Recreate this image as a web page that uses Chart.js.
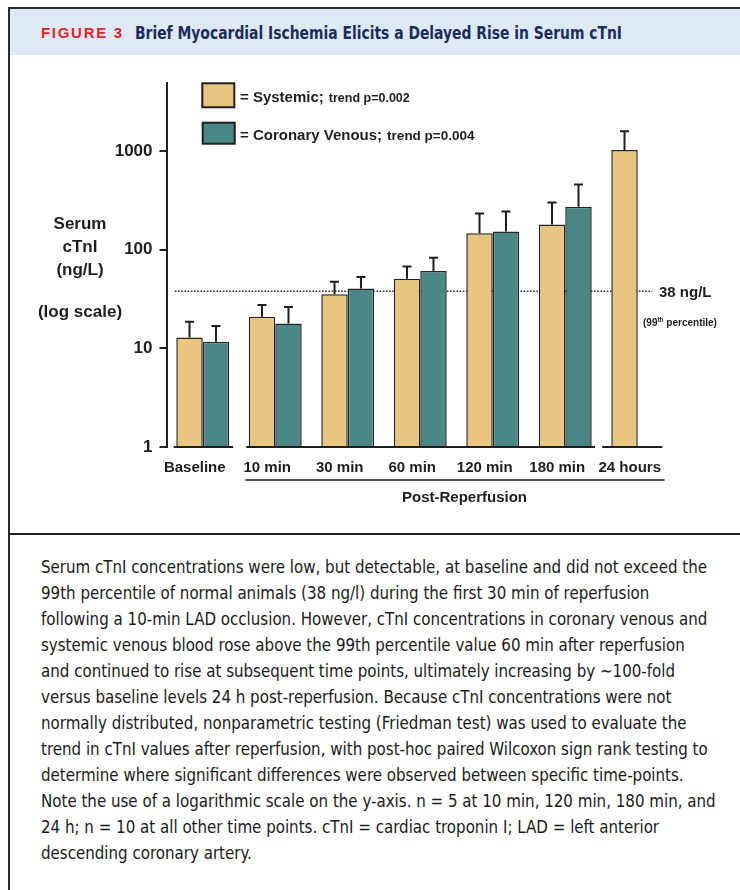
<!DOCTYPE html>
<html>
<head>
<meta charset="utf-8">
<script src="https://cdn.jsdelivr.net/npm/chart.js@4.4.1/dist/chart.umd.min.js"></script>
<style>
  body { margin: 0; width: 740px; height: 890px; overflow: hidden; background: #fff; position: relative; }
  #frame { position: absolute; left: 8px; top: 7px; width: 732px; height: 883px; border-left: 2px solid #2b2b2b; border-top: 2px solid #2b2b2b; }
  #band { position: absolute; left: 10px; top: 9px; width: 730px; height: 46px; background: #dee9f5; }
  #fig { position: absolute; left: 41px; top: 23px; font: bold 15px "Liberation Sans", Arial, sans-serif; letter-spacing: 1.7px; color: #e3232d; line-height: 20px; white-space: nowrap; }
  #title { position: absolute; left: 135px; top: 22px; font: bold 17px "Liberation Sans Narrow", "DejaVu Sans Condensed", "Liberation Sans", Arial, sans-serif; color: #1b2d5c; line-height: 22px; white-space: nowrap; transform-origin: left center; }
  #rule { position: absolute; left: 8px; top: 533px; width: 732px; height: 2px; background: #1e1e1e; }
  #chartBox { position: absolute; left: 10px; top: 56px; width: 730px; height: 477px; }
  #caption { position: absolute; left: 41px; top: 554px; font: 18px "Liberation Sans Narrow", "DejaVu Sans Condensed", "Liberation Sans", Arial, sans-serif; color: #1a1a1a; line-height: 26px; transform-origin: left top; }
  #caption div { white-space: nowrap; }
  #caption span { display: inline-block; }
</style>
</head>
<body>
<div id="frame"></div>
<div id="band"></div>
<div id="fig">FIGURE 3</div>
<div id="title">Brief Myocardial Ischemia Elicits a Delayed Rise in Serum cTnI</div>
<div id="chartBox"><canvas id="chart" width="730" height="477"></canvas></div>
<div id="rule"></div>
<div id="caption"></div>

<script>
// ---------------------------------------------------------
// data (ng/L, log scale)
// ---------------------------------------------------------
const categories = ['Baseline', '10 min', '30 min', '60 min', '120 min', '180 min', '24 hours'];
const systemic    = [12.9, 20.9, 35.3, 50.7, 147, 180, 1028];
const systemicErr = [18.6, 27.5, 47.3, 67.7, 233, 301, 1591];   // top of error bar
const coronary    = [11.7, 17.9, 40.5, 60.7, 153, 272, null];
const coronaryErr = [16.9, 26.2, 52.8, 82.8, 244, 459, null];
const yTicks = [1, 10, 100, 1000];
const threshold = 38;
const seriesLabels = ['Systemic', 'Coronary Venous'];
const trendLabels = ['trend p=0.002', 'trend p=0.004'];
const yTitleLines = ['Serum', 'cTnI', '(ng/L)'];

const captionLines = [
  'Serum cTnI concentrations were low, but detectable, at baseline and did not exceed the',
  '99th percentile of normal animals (38 ng/l) during the first 30 min of reperfusion',
  'following a 10-min LAD occlusion. However, cTnI concentrations in coronary venous and',
  'systemic venous blood rose above the 99th percentile value 60 min after reperfusion',
  'and continued to rise at subsequent time points, ultimately increasing by \u223c100-fold',
  'versus baseline levels 24 h post-reperfusion. Because cTnI concentrations were not',
  'normally distributed, nonparametric testing (Friedman test) was used to evaluate the',
  'trend in cTnI values after reperfusion, with post-hoc paired Wilcoxon sign rank testing to',
  'determine where significant differences were observed between specific time-points.',
  'Note the use of a logarithmic scale on the y-axis. n = 5 at 10 min, 120 min, 180 min, and',
  '24 h; n = 10 at all other time points. cTnI = cardiac troponin I; LAD = left anterior',
  'descending coronary artery.'
];

const FONT = '"Liberation Sans", Arial, Helvetica, sans-serif';
const INK = '#1e1e1e';

// ---------------------------------------------------------
// caption + title (condensed look)
// ---------------------------------------------------------
const cap = document.getElementById('caption');
captionLines.forEach(t => {
  const d = document.createElement('div');
  const s = document.createElement('span');
  s.textContent = t;
  d.appendChild(s);
  cap.appendChild(d);
});
const firstW = cap.querySelector('span').getBoundingClientRect().width;
cap.style.transform = 'scaleX(' + (666 / firstW) + ')';

const title = document.getElementById('title');
const tW = title.getBoundingClientRect().width;
title.style.transform = 'scaleX(' + (487 / tW) + ')';

// ---------------------------------------------------------
// plugin: threshold line, error bars, axis pieces, legend, labels
// ---------------------------------------------------------
const errs = [systemicErr, coronaryErr];

const figurePlugin = {
  id: 'figureExtras',
  beforeDatasetsDraw(chart) {
    const { ctx, scales: { x, y } } = chart;
    const yy = y.getPixelForValue(threshold);
    ctx.save();
    ctx.strokeStyle = '#333';
    ctx.lineWidth = 1.5;
    ctx.setLineDash([1.6, 1.6]);
    ctx.beginPath();
    ctx.moveTo(x.getPixelForValue(-0.386), yy);
    ctx.lineTo(x.getPixelForValue(6.2), yy);
    ctx.stroke();
    ctx.restore();
  },
  afterDatasetsDraw(chart) {
    const { ctx, chartArea, scales: { x, y } } = chart;
    ctx.save();
    ctx.strokeStyle = INK;
    ctx.lineWidth = 2;

    // upper error bars with caps
    chart.data.datasets.forEach((ds, i) => {
      chart.getDatasetMeta(i).data.forEach((bar, j) => {
        const top = errs[i][j];
        if (top == null || ds.data[j] == null) return;
        const yt = y.getPixelForValue(top);
        ctx.beginPath();
        ctx.moveTo(bar.x, bar.y);
        ctx.lineTo(bar.x, yt);
        ctx.moveTo(bar.x - 4.5, yt);
        ctx.lineTo(bar.x + 4.5, yt);
        ctx.stroke();
      });
    });

    // broken baseline under the groups
    [[-0.4, 0.42], [0.6, 5.41], [5.51, 6.34]].forEach(([a, b]) => {
      ctx.beginPath();
      ctx.moveTo(x.getPixelForValue(a), chartArea.bottom);
      ctx.lineTo(x.getPixelForValue(b), chartArea.bottom);
      ctx.stroke();
    });
    ctx.restore();
  },
  afterDraw(chart) {
    const { ctx, chartArea, scales: { x, y } } = chart;
    ctx.save();
    ctx.fillStyle = INK;
    ctx.textBaseline = 'middle';

    // y-axis title
    ctx.textAlign = 'center';
    ctx.font = 'bold 17px ' + FONT;
    yTitleLines.forEach((t, i) => ctx.fillText(t, 70, 168 + i * 23));
    ctx.fillText('(log scale)', 70, 256);

    // legend
    const boxes = [[192.3, 27.3, 32, 24], [192.7, 66.7, 32, 21]];
    const rows = [41.7, 79.7];
    const small = [12.5, 13.5];
    chart.data.datasets.forEach((ds, i) => {
      const [bx, by, bw, bh] = boxes[i];
      ctx.fillStyle = ds.backgroundColor;
      ctx.fillRect(bx, by, bw, bh);
      ctx.strokeStyle = INK;
      ctx.lineWidth = 2;
      ctx.strokeRect(bx, by, bw, bh);
      ctx.fillStyle = INK;
      ctx.textAlign = 'left';
      ctx.font = 'bold 15px ' + FONT;
      const main = '= ' + seriesLabels[i] + ';';
      ctx.fillText(main, 230, rows[i]);
      const w = ctx.measureText(main).width;
      ctx.font = 'bold ' + small[i] + 'px ' + FONT;
      ctx.fillText(trendLabels[i], 230 + w + 5, rows[i] + 1);
    });

    // threshold label
    const yy = y.getPixelForValue(threshold);
    ctx.font = 'bold 15px ' + FONT;
    ctx.fillText(threshold + ' ng/L', 649, yy + 2);
    let px = 633;
    const py = 267;
    ctx.font = 'bold 10px ' + FONT;
    ctx.fillText('(99', px, py);
    px += ctx.measureText('(99').width;
    ctx.font = 'bold 6.5px ' + FONT;
    ctx.fillText('th', px, py - 3);
    px += ctx.measureText('th').width;
    ctx.font = 'bold 10px ' + FONT;
    ctx.fillText(' percentile)', px, py);

    // post-reperfusion bracket
    ctx.strokeStyle = '#555';
    ctx.lineWidth = 2;
    ctx.beginPath();
    ctx.moveTo(x.getPixelForValue(0.59), 424);
    ctx.lineTo(x.getPixelForValue(6.37), 424);
    ctx.stroke();
    ctx.textAlign = 'center';
    ctx.font = 'bold 15px ' + FONT;
    ctx.fillText('Post-Reperfusion', x.getPixelForValue(3.61), 442);
    ctx.restore();
  }
};

// ---------------------------------------------------------
// chart
// ---------------------------------------------------------
new Chart(document.getElementById('chart'), {
  type: 'bar',
  data: {
    labels: categories,
    datasets: [
      { label: seriesLabels[0], data: systemic, backgroundColor: '#e8c680', borderColor: '#262626', borderWidth: 1.5 },
      { label: seriesLabels[1], data: coronary, backgroundColor: '#4b8785', borderColor: '#262626', borderWidth: 1.5 }
    ]
  },
  options: {
    responsive: false,
    animation: false,
    devicePixelRatio: 1,
    categoryPercentage: 0.73,
    barPercentage: 1,
    layout: { padding: { left: 0, top: 27, right: 66, bottom: 0 } },
    plugins: { legend: { display: false }, tooltip: { enabled: false } },
    scales: {
      x: {
        grid: { display: false, drawTicks: false },
        border: { display: false },
        ticks: { color: INK, font: { family: FONT, size: 15, weight: 'bold' }, padding: 12, labelOffset: -8, maxRotation: 0, autoSkip: false },
        afterFit(scale) { scale.height = 86; }
      },
      y: {
        type: 'logarithmic',
        min: 1,
        max: 4900,
        grid: { drawOnChartArea: false, drawTicks: true, tickLength: 7, color: INK, lineWidth: 2 },
        border: { display: true, color: INK, width: 2 },
        ticks: { color: INK, font: { family: FONT, size: 17, weight: 'bold' }, padding: 7, callback: v => String(v) },
        afterBuildTicks(scale) { scale.ticks = yTicks.map(v => ({ value: v })); },
        afterFit(scale) { scale.width = 156.5; }
      }
    }
  },
  plugins: [figurePlugin]
});
</script>
</body>
</html>
